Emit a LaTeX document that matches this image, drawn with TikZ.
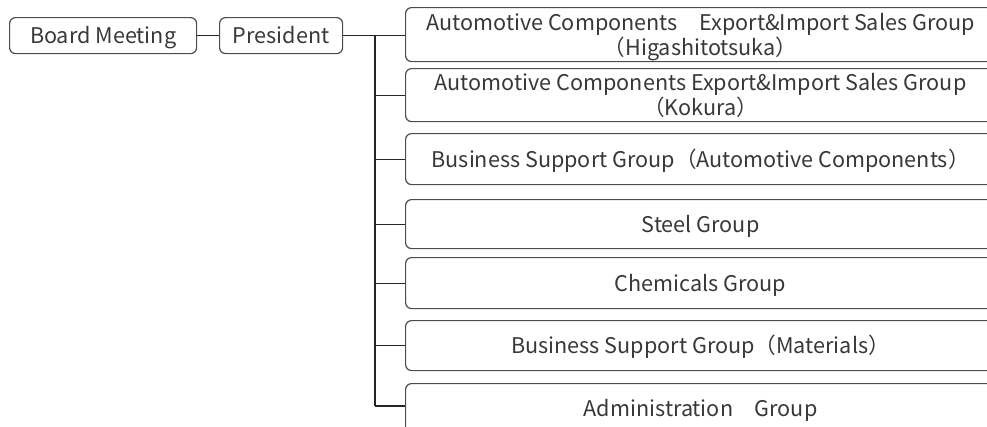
\documentclass[tikz,border=0pt]{standalone}
\usepackage{fontspec}
\setmainfont{Noto Sans CJK JP}
\begin{document}
\begin{tikzpicture}[x=1pt,y=-1pt,
  box/.style={draw=black!70, line width=1.2pt, rounded corners=6pt, inner sep=0pt,
    text=black!78, font=\fontsize{21.6}{25}\selectfont, align=center,
    text height=16pt, text depth=0pt},
  grp/.style={box, minimum width=590pt, anchor=north west},
  twoline/.style={text height=41pt, text depth=0pt},
  conn/.style={draw=black!85, line width=1.1pt}]
\useasboundingbox (0,0) rectangle (987,426);
\clip (0,0) rectangle (987,426);
\node[box, minimum width=187pt, minimum height=36pt, anchor=north west] (bm) at (9,17) {Board Meeting};
\node[box, minimum width=123pt, minimum height=36pt, anchor=north west] (pres) at (219,17) {President};
\node[grp, twoline, minimum height=54pt] (g1) at (405,7) {Automotive Components　Export\&Import Sales Group\\（Higashitotsuka）};
\node[grp, twoline, minimum height=53pt] (g2) at (405,68) {Automotive Components Export\&Import Sales Group\\（Kokura）};
\node[grp, minimum height=51pt] (g3) at (405,133) {Business Support Group（Automotive Components）};
\node[grp, minimum height=49pt] (g4) at (405,199) {Steel Group};
\node[grp, minimum height=51pt] (g5) at (405,257) {Chemicals Group};
\node[grp, minimum height=50pt] (g6) at (405,320) {Business Support Group（Materials）};
\node[grp, minimum height=50pt] (g7) at (405,383) {Administration　Group};
\coordinate (ttop) at (375,35);
\coordinate (tbot) at (375,406);
\draw[conn] (bm.east) -- (pres.west);
\draw[conn] (pres.east) -- (g1.west |- pres.east);
\draw[conn] (ttop) -- (tbot);
\foreach \g in {g2,g3,g4,g5,g6} {\draw[conn] (\g.west -| ttop) -- (\g.west);}
\draw[conn] (tbot) -- (g7.west |- tbot);
\end{tikzpicture}
\end{document}
